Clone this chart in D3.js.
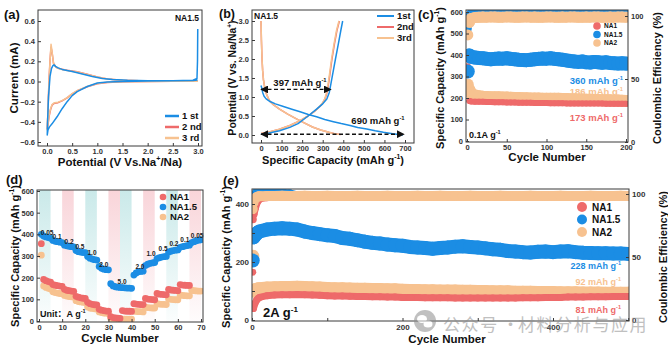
<!DOCTYPE html>
<html>
<head>
<meta charset="utf-8">
<script src="https://cdn.jsdelivr.net/npm/d3@7"></script>
<style>
  body { margin: 0; background: #fff; }
  svg text { font-family: "Liberation Sans", Arial, "Noto Sans CJK SC", sans-serif; font-weight: bold; }
</style>
</head>
<body>
<svg id="fig" width="668" height="349"></svg>
<script>
// ---------- (a) CV curves ----------
const cvV1 = [2.995, 2.99, 2.98, 2.9, 2.5, 2.0, 1.5, 1.2, 1.0, 0.8, 0.6, 0.5, 0.4, 0.3, 0.2, 0.1, 0.05, 0.02, 0.005, 0.01, 0.03, 0.06, 0.09, 0.12, 0.14, 0.17, 0.22, 0.3, 0.5, 0.7, 0.9, 1.1, 1.3, 1.6, 2.0, 2.5, 2.9, 2.99];
const cvI1 = [0.52, 0.2, 0.03, 0.012, 0.008, 0.004, 0.0, -0.005, -0.015, -0.05, -0.1, -0.14, -0.2, -0.27, -0.35, -0.42, -0.45, -0.48, -0.53, -0.42, -0.15, 0.05, 0.13, 0.16, 0.165, 0.15, 0.135, 0.12, 0.10, 0.075, 0.05, 0.03, 0.02, 0.012, 0.008, 0.008, 0.01, 0.015];
const cvV23 = [3.0, 2.5, 2.0, 1.5, 1.2, 1.0, 0.8, 0.6, 0.5, 0.4, 0.3, 0.22, 0.15, 0.1, 0.07, 0.04, 0.02, 0.005, 0.02, 0.04, 0.06, 0.08, 0.1, 0.13, 0.18, 0.25, 0.4, 0.6, 0.8, 1.0, 1.2, 1.5, 2.0, 2.5, 3.0];
const cvI2 = [0.003, 0.002, 0.0, -0.003, -0.009, -0.022, -0.052, -0.092, -0.122, -0.162, -0.192, -0.21, -0.215, -0.235, -0.28, -0.35, -0.43, -0.47, -0.28, 0.02, 0.21, 0.34, 0.29, 0.18, 0.14, 0.126, 0.112, 0.096, 0.071, 0.046, 0.026, 0.013, 0.006, 0.004, 0.003];
const cvI3 = [0.003, 0.002, 0.0, -0.003, -0.008, -0.02, -0.05, -0.09, -0.12, -0.16, -0.19, -0.205, -0.21, -0.23, -0.27, -0.34, -0.42, -0.48, -0.3, 0.0, 0.2, 0.37, 0.3, 0.18, 0.14, 0.125, 0.11, 0.095, 0.07, 0.045, 0.025, 0.012, 0.006, 0.004, 0.003];
const cvNames = ['1 st', '2 nd', '3 rd'];

// ---------- (b) charge / discharge profiles ----------
const gcdDisCap1 = [0, 3, 8, 15, 25, 44, 70, 109, 150, 190, 230, 270, 310, 352, 390, 433, 470, 514, 555, 595, 640, 670, 690];
const gcdDisV1   = [1.3, 1.25, 1.12, 1.02, 0.95, 0.88, 0.82, 0.75, 0.68, 0.61, 0.54, 0.48, 0.41, 0.35, 0.30, 0.25, 0.2, 0.16, 0.11, 0.07, 0.035, 0.015, 0.0];
const gcdChgCap1 = [0, 40, 90, 140, 180, 229, 270, 300, 320, 332, 340, 350, 362, 376, 388, 397];
const gcdChgV1   = [0.02, 0.05, 0.11, 0.2, 0.3, 0.5, 0.68, 0.82, 0.95, 1.12, 1.35, 1.65, 2.0, 2.4, 2.75, 3.0];
const gcdDisCap3 = [0, 2, 5, 8, 12, 18, 25, 35, 44, 60, 90, 130, 170, 210, 250, 290, 330, 360, 385];
const gcdDisV3   = [3.0, 2.5, 2.0, 1.7, 1.45, 1.25, 1.1, 0.97, 0.88, 0.8, 0.68, 0.55, 0.43, 0.32, 0.21, 0.13, 0.07, 0.03, 0.01];
const gcdChgCap3 = [0, 40, 90, 140, 190, 229, 260, 285, 300, 310, 318, 325, 333, 343, 355, 367, 379];
const gcdChgV3   = [0.04, 0.08, 0.15, 0.25, 0.38, 0.5, 0.62, 0.75, 0.85, 0.95, 1.1, 1.3, 1.6, 2.0, 2.4, 2.75, 3.0];
const gcdDisCap2 = [0, 2, 5, 8, 12, 18, 25, 35, 44, 60, 90, 130, 170, 210, 250, 290, 330, 362, 388];
const gcdChgCap2 = [0, 40, 90, 140, 190, 229, 260, 286, 301, 311, 320, 327, 335, 345, 357, 369, 381];
const gcdNames = ['1st', '2nd', '3rd'];

// ---------- (c) cycling at 0.1 A/g ----------
const cycC = [1, 3, 5, 10, 15, 20, 25, 30, 35, 40, 45, 50, 55, 60, 65, 70, 75, 80, 85, 90, 95, 100, 105, 110, 115, 120, 125, 130, 135, 140, 145, 150, 155, 160, 165, 170, 175, 180, 185, 190, 195, 200];
const capC_NA15 = [323, 398, 392, 388, 386, 385, 382, 380, 382, 384, 383, 385, 382, 380, 378, 377, 376, 378, 380, 382, 384, 383, 385, 382, 380, 378, 375, 372, 370, 368, 370, 366, 365, 368, 366, 364, 366, 363, 362, 360, 362, 360];
const capC_NA2  = [263, 238, 222, 212, 208, 206, 205, 204, 203, 203, 202, 202, 201, 200, 200, 199, 199, 198, 198, 198, 197, 197, 197, 196, 196, 195, 195, 194, 194, 193, 193, 192, 192, 191, 191, 190, 190, 189, 188, 188, 187, 186];
const capC_NA1  = [348, 186, 184, 183, 182, 182, 181, 181, 180, 180, 180, 179, 179, 179, 178, 178, 178, 178, 177, 177, 177, 177, 176, 176, 176, 176, 175, 175, 175, 175, 175, 174, 174, 174, 174, 174, 173, 173, 173, 173, 173, 173];
const ceC_NA2  = [85, 95, 98, 98.8, 99.0, 99.2, 99.1, 99.3, 99.2, 99.0, 99.1, 99.3, 99.2, 99.1, 99.0, 99.2, 99.3, 99.1, 99.2, 99.0, 99.1, 99.2, 99.3, 99.1, 99.0, 99.2, 99.1, 99.3, 99.2, 99.0, 99.1, 99.2, 99.1, 99.3, 99.2, 99.0, 99.1, 99.2, 99.1, 99.3, 99.2, 99.1];
const ceC_NA15 = [90, 100.5, 102.5, 103.0, 103.2, 103.1, 103.3, 103.2, 103.0, 103.1, 103.2, 103.1, 103.3, 103.2, 103.1, 103.0, 103.2, 103.1, 103.3, 103.2, 103.1, 103.2, 103.0, 103.1, 103.2, 103.3, 103.1, 103.2, 103.0, 103.1, 103.2, 103.1, 103.3, 103.2, 103.1, 103.0, 103.2, 103.1, 103.2, 103.1, 103.2, 103.1];

// ---------- (d) rate capability ----------
const rateNA15 = [400, 392, 388, 385, 382, 372, 368, 366, 364, 362, 350, 347, 345, 343, 342, 325, 320, 318, 316, 315,
                  298, 290, 286, 283, 281, 252, 243, 239, 237, 236, 172, 162, 158, 156, 155, 154, 153, 152, 152, 151,
                  212, 222, 227, 229, 230, 256, 262, 266, 268, 270, 288, 292, 295, 297, 298, 318, 322, 325, 327, 328,
                  340, 343, 346, 348, 350, 362, 366, 370, 373, 375];
const rateNA1  = [357, 192, 186, 182, 179, 168, 165, 163, 161, 160, 146, 142, 140, 138, 137, 114, 110, 107, 105, 104,
                  86, 80, 77, 75, 74, 54, 50, 48, 46, 45, 20, 16, 14, 13, 12, 48, 46, 45, 45, 44,
                  80, 78, 77, 76, 76, 104, 101, 100, 99, 98, 127, 124, 123, 122, 121, 146, 143, 142, 141, 140,
                  168, 166, 165, 164, 164];
const rateNA2  = [304, 162, 155, 151, 148, 135, 131, 129, 127, 126, 118, 115, 113, 112, 111, 94, 90, 88, 86, 85,
                  65, 60, 58, 56, 55, 42, 39, 37, 36, 35, 12, 10, 9, 9, 8, 9, 8, 8, 8, 8,
                  46, 44, 43, 43, 42, 64, 62, 61, 60, 60, 80, 78, 77, 77, 76, 102, 100, 99, 98, 98,
                  120, 118, 117, 116, 116, 142, 140, 139, 138, 138];
const rateBandStart = [0, 10, 20, 30, 35, 45, 55, 65];
const rateBandEnd   = [5, 15, 25, 35, 40, 50, 60, 70];
const rateBandKind  = ['t', 'p', 't', 'p', 't', 'p', 't', 'p'];
const rateLabels     = ['0.05', '0.1', '0.2', '0.5', '1.0', '2.0', '5.0', '2.0', '1.0', '0.5', '0.2', '0.1', '0.05'];
const rateLabelCycle = [3.5, 7.8, 13, 17.7, 22.9, 28, 35.9, 43.6, 48.4, 53.6, 58.3, 63, 68.3];
const rateLabelValue = [408, 390, 366, 344, 316, 261, 183, 252, 311, 334, 357, 375, 394];

// ---------- (e) long cycling at 2 A/g ----------
const cycE = [1, 2, 4, 6, 8, 10, 20, 30, 40, 50, 60, 70, 80, 90, 100, 110, 120, 130, 140, 150, 160, 170, 180, 190, 200,
              210, 220, 230, 240, 250, 260, 270, 280, 290, 300, 310, 320, 330, 340, 350, 360, 370, 380, 390, 400,
              410, 420, 430, 440, 450, 460, 470, 480, 490, 500];
const capE_NA15 = [205, 285, 292, 298, 302, 305, 312, 315, 316, 315, 312, 305, 300, 296, 292, 290, 283, 280, 275, 270, 266, 264, 260, 258, 256,
                   252, 250, 248, 246, 248, 250, 253, 254, 252, 250, 247, 244, 242, 238, 236, 234, 233, 235, 236, 234,
                   236, 237, 234, 232, 231, 230, 230, 229, 229, 228];
const capE_NA2  = [220, 100, 104, 106, 107, 108, 110, 111, 112, 112, 113, 112, 111, 110, 109, 108, 108, 107, 106, 106, 105, 105, 104, 104, 103,
                   102, 102, 101, 101, 100, 100, 100, 99, 99, 98, 98, 97, 97, 97, 96, 96, 96, 95, 95, 95,
                   94, 94, 94, 93, 93, 93, 92, 92, 92, 92];
const capE_NA1  = [165, 40, 58, 68, 74, 78, 84, 86, 87, 87, 88, 87, 86, 85, 84, 83, 83, 82, 81, 81, 80, 80, 79, 79, 78,
                   78, 78, 77, 77, 77, 77, 76, 76, 76, 76, 76, 76, 76, 76, 76, 77, 77, 77, 78, 78,
                   78, 79, 79, 79, 80, 80, 80, 81, 81, 81];
const ceE_NA2  = [88, 93, 96, 97.5, 98, 98.3, 98.4, 98.5, 98.6, 98.4, 98.5, 98.6, 98.5, 98.4, 98.6, 98.5, 98.4, 98.5, 98.6, 98.5, 98.4, 98.5, 98.6, 98.5, 98.4,
                  98.5, 98.6, 98.4, 98.5, 98.6, 98.5, 98.4, 98.5, 98.6, 98.5, 98.4, 98.5, 98.6, 98.5, 98.4, 98.5, 98.6, 98.5, 98.4, 98.5,
                  98.6, 98.5, 98.4, 98.5, 98.6, 98.5, 98.4, 98.5, 98.6, 98.5];
const ceE_NA1  = [80, 84, 89, 93, 95, 96.5, 97.5, 98.2, 98.2, 98.2, 98.2, 98.2, 98.2, 98.2, 98.2, 98.2, 98.2, 98.2, 98.2, 98.2, 98.2, 98.2, 98.2, 98.2, 98.2,
                  98.2, 98.2, 98.2, 98.2, 98.2, 98.2, 98.2, 98.2, 98.2, 98.2, 98.2, 98.2, 98.2, 98.2, 98.2, 98.2, 98.2, 98.2, 98.2, 98.2,
                  98.2, 98.2, 98.2, 98.2, 98.2, 98.2, 98.2, 98.2, 98.2, 98.2];
const ceE_NA15 = [92, 97, 100, 101.5, 102, 102, 102, 101.5, 101, 100.5, 99, 99, 99, 99, 99, 99, 99, 99, 99, 99, 99, 99, 99, 99, 99,
                  99, 99, 99, 99, 99, 99, 99, 99, 99, 99, 99, 99, 99, 99, 99, 99, 99, 99, 99, 99,
                  99, 99, 99, 99, 99, 99, 99, 99, 99, 99];

const sampleNames = ['NA1', 'NA1.5', 'NA2'];

// ---------- drawing ----------
const BLUE = '#1b8de4', RED = '#ee6a6a', TAN = '#f7c290', INK = '#111', AX = '#3a3a3a';
const svg = d3.select('#fig');
const defs = svg.append('defs');

// text with optional superscript parts: strings or {sup: '...'}
function rich(g, x, y, parts, size, opts = {}) {
  const t = g.append('text').attr('x', x).attr('y', y).attr('font-size', size)
    .attr('fill', opts.fill || INK).attr('text-anchor', opts.anchor || 'start');
  if (opts.rotate) t.attr('transform', `rotate(${opts.rotate},${x},${y})`);
  let shift = 0;
  parts.forEach(p => {
    const sup = typeof p !== 'string';
    const s = t.append('tspan').text(sup ? p.sup : p);
    const target = sup ? -size * 0.42 : 0;
    if (target !== shift) { s.attr('dy', target - shift); shift = target; }
    if (sup) s.attr('font-size', size * 0.62);
  });
  return t;
}

function clipFor(id, b) {
  defs.append('clipPath').attr('id', id).append('rect')
    .attr('x', b.x0).attr('y', b.y0).attr('width', b.x1 - b.x0).attr('height', b.y1 - b.y0);
  return svg.append('g').attr('clip-path', `url(#${id})`);
}

function frame(b) {
  svg.append('rect').attr('x', b.x0).attr('y', b.y0).attr('width', b.x1 - b.x0).attr('height', b.y1 - b.y0)
    .attr('fill', 'none').attr('stroke', AX).attr('stroke-width', 1);
}

function styleAxis(g, fs) {
  g.select('.domain').remove();
  g.selectAll('line').attr('stroke', AX);
  g.selectAll('text').attr('font-size', fs).attr('fill', '#333')
    .style('font-family', '"Liberation Sans", Arial, sans-serif').style('font-weight', 'bold');
}

function axes(b, x, xt, xf, y, yt, yf, fs = 7.5) {
  const gx = svg.append('g').attr('transform', `translate(0,${b.y1})`)
    .call(d3.axisBottom(x).tickValues(xt).tickFormat(xf).tickSize(-3).tickPadding(3));
  styleAxis(gx, fs);
  const gy = svg.append('g').attr('transform', `translate(${b.x0},0)`)
    .call(d3.axisLeft(y).tickValues(yt).tickFormat(yf).tickSize(-3).tickPadding(3));
  styleAxis(gy, fs);
}

function rightAxis(b, y, yt, fs = 7.5) {
  const g = svg.append('g').attr('transform', `translate(${b.x1},0)`)
    .call(d3.axisRight(y).tickValues(yt).tickFormat(d3.format('d')).tickSize(-3).tickPadding(3));
  styleAxis(g, fs);
}

function curve(g, xs, ys, x, y, color, w = 1.5) {
  g.append('path').datum(xs.map((v, i) => [x(v), y(ys[i])]))
    .attr('d', d3.line()).attr('fill', 'none').attr('stroke', color)
    .attr('stroke-width', w).attr('stroke-linejoin', 'round');
}

// overlapping scatter markers along a series, joined so the band has no gaps
function band(g, xs, ys, x, y, color, r, from = 1) {
  const pts = xs.map((v, i) => [x(v), y(ys[i])]);
  g.append('path').datum(pts.slice(from)).attr('d', d3.line()).attr('fill', 'none')
    .attr('stroke', color).attr('stroke-width', 2 * r).attr('stroke-linejoin', 'round').attr('stroke-linecap', 'round');
  g.selectAll(null).data(pts).join('circle')
    .attr('cx', d => d[0]).attr('cy', d => d[1]).attr('r', r).attr('fill', color);
}

const capTitle = ['Specific Capacity (mAh g', {sup: '-1'}, ')'];

// ===== (a) =====
const A = {x0: 38, x1: 202, y0: 10, y1: 146};
const xa = d3.scaleLinear().domain([0, 3]).range([47, 198]);
const ya = d3.scaleLinear().domain([-0.6, 0.6]).range([142, 21]);
const ga = clipFor('clipA', A);
curve(ga, cvV23, cvI2, xa, ya, RED);
curve(ga, cvV23, cvI3, xa, ya, TAN);
curve(ga, cvV1, cvI1, xa, ya, BLUE);
frame(A);
axes(A, xa, d3.range(0, 3.01, 0.5), d3.format('.1f'), ya, [-0.6, -0.4, -0.2, 0, 0.2, 0.4, 0.6], d3.format('.1f'));
[BLUE, RED, TAN].forEach((c, i) => {
  svg.append('line').attr('x1', 165).attr('x2', 179).attr('y1', 116 + i * 11).attr('y2', 116 + i * 11)
    .attr('stroke', c).attr('stroke-width', 2.5);
  svg.append('text').attr('x', 182).attr('y', 116 + i * 11).attr('dy', '0.35em').attr('font-size', 9.5)
    .attr('fill', INK).text(cvNames[i]);
});
svg.append('text').attr('x', 199).attr('y', 21).attr('text-anchor', 'end').attr('font-size', 8.5).attr('fill', INK).text('NA1.5');
svg.append('text').attr('x', 4).attr('y', 19).attr('font-size', 13).attr('fill', INK).text('(a)');
rich(svg, 18, 78, ['Current (mA)'], 11.5, {anchor: 'middle', rotate: -90});
rich(svg, 120, 166, ['Potential (V Vs.Na', {sup: '+'}, '/Na)'], 11.5, {anchor: 'middle'});

// ===== (b) =====
const B = {x0: 252, x1: 414, y0: 10, y1: 143};
const xb = d3.scaleLinear().domain([0, 700]).range([261, 405]);
const yb = d3.scaleLinear().domain([0, 3]).range([135, 21]);
const gb = clipFor('clipB', B);
curve(gb, gcdDisCap2, gcdDisV3, xb, yb, RED);
curve(gb, gcdChgCap2, gcdChgV3, xb, yb, RED);
curve(gb, gcdDisCap3, gcdDisV3, xb, yb, TAN);
curve(gb, gcdChgCap3, gcdChgV3, xb, yb, TAN);
curve(gb, gcdDisCap1, gcdDisV1, xb, yb, BLUE);
curve(gb, gcdChgCap1, gcdChgV1, xb, yb, BLUE);
frame(B);
axes(B, xb, d3.range(0, 701, 100), d3.format('d'), yb, d3.range(0, 3.01, 0.5), d3.format('.1f'));
defs.append('marker').attr('id', 'arr').attr('viewBox', '0 0 10 10').attr('refX', 9).attr('refY', 5)
  .attr('markerWidth', 6).attr('markerHeight', 6).attr('orient', 'auto-start-reverse')
  .append('path').attr('d', 'M0,0L10,5L0,10z').attr('fill', INK);
function dashArrow(c0, c1, v) {
  svg.append('line').attr('x1', xb(c0)).attr('x2', xb(c1)).attr('y1', yb(v)).attr('y2', yb(v))
    .attr('stroke', INK).attr('stroke-width', 1.3).attr('stroke-dasharray', '4,2.5')
    .attr('marker-start', 'url(#arr)').attr('marker-end', 'url(#arr)');
}
dashArrow(0, 340, 1.2);
dashArrow(0, 695, 0.02);
rich(svg, 300, 86, ['397 mAh g', {sup: '-1'}], 9.5, {anchor: 'middle'});
rich(svg, 378, 124, ['690 mAh g', {sup: '-1'}], 9.5, {anchor: 'middle'});
[BLUE, RED, TAN].forEach((c, i) => {
  svg.append('line').attr('x1', 377).attr('x2', 394).attr('y1', 16 + i * 11).attr('y2', 16 + i * 11)
    .attr('stroke', c).attr('stroke-width', 2);
  svg.append('text').attr('x', 397).attr('y', 16 + i * 11).attr('dy', '0.35em').attr('font-size', 9.5)
    .attr('fill', INK).text(gcdNames[i]);
});
svg.append('text').attr('x', 254).attr('y', 19).attr('font-size', 8.5).attr('fill', INK).text('NA1.5');
svg.append('text').attr('x', 219).attr('y', 18).attr('font-size', 12.5).attr('fill', INK).text('(b)');
rich(svg, 236, 78, ['Potential (V vs. Na/Na', {sup: '+'}, ')'], 10.5, {anchor: 'middle', rotate: -90});
rich(svg, 333, 164, capTitle, 11, {anchor: 'middle'});

// ===== (c) =====
const Cb = {x0: 466, x1: 628, y0: 10, y1: 142};
const xc = d3.scaleLinear().domain([0, 200]).range([467, 626]);
const yc = d3.scaleLinear().domain([0, 600]).range([141, 12]);
const yc2 = d3.scaleLinear().domain([0, 100]).range([142, 16]);
const gc = clipFor('clipC', Cb);
band(gc, cycC, ceC_NA15, xc, yc2, BLUE, 4);
band(gc, cycC, ceC_NA2, xc, yc2, TAN, 5.5);
band(gc, cycC, capC_NA2, xc, yc, TAN, 6);
band(gc, cycC, capC_NA1, xc, yc, RED, 3);
band(gc, cycC, capC_NA15, xc, yc, BLUE, 7);
frame(Cb);
axes(Cb, xc, [0, 50, 100, 150, 200], d3.format('d'), yc, d3.range(0, 601, 100), d3.format('d'));
rightAxis(Cb, yc2, [0, 50, 100]);
[RED, BLUE, TAN].forEach((c, i) => {
  svg.append('circle').attr('cx', 597).attr('cy', 26 + i * 8.5).attr('r', 3.8).attr('fill', c);
  svg.append('text').attr('x', 604).attr('y', 26 + i * 8.5).attr('dy', '0.35em').attr('font-size', 6.5)
    .attr('fill', INK).text(sampleNames[i]);
});
rich(svg, 623, 84, ['360 mAh g', {sup: '-1'}], 9.5, {anchor: 'end', fill: BLUE});
rich(svg, 623, 95, ['186 mAh g', {sup: '-1'}], 9.5, {anchor: 'end', fill: TAN});
rich(svg, 623, 121, ['173 mAh g', {sup: '-1'}], 9.5, {anchor: 'end', fill: RED});
rich(svg, 469, 138, ['0.1A g', {sup: '-1'}], 9, {});
svg.append('text').attr('x', 418).attr('y', 19).attr('font-size', 13).attr('fill', INK).text('(c)');
rich(svg, 444, 78, capTitle, 11, {anchor: 'middle', rotate: -90});
rich(svg, 661, 78, ['Coulombic Efficiency (%)'], 11, {anchor: 'middle', rotate: -90});
rich(svg, 547, 161, ['Cycle Number'], 11.5, {anchor: 'middle'});

// ===== (d) =====
const D = {x0: 37, x1: 203, y0: 190, y1: 322};
const xd = d3.scaleLinear().domain([0, 70]).range([39, 201]);
const yd = d3.scaleLinear().domain([0, 600]).range([321, 191]);
[['gradT', '#b3e0e0'], ['gradP', '#f6c2c9']].forEach(([id, col]) => {
  const lg = defs.append('linearGradient').attr('id', id).attr('x1', 0).attr('y1', 0).attr('x2', 0).attr('y2', 1);
  lg.append('stop').attr('offset', '0%').attr('stop-color', col).attr('stop-opacity', 0.7);
  lg.append('stop').attr('offset', '100%').attr('stop-color', col).attr('stop-opacity', 0.05);
});
const gd = clipFor('clipD', D);
gd.selectAll(null).data(rateBandStart).join('rect')
  .attr('x', (d, i) => xd(d)).attr('width', (d, i) => xd(rateBandEnd[i]) - xd(d))
  .attr('y', D.y0).attr('height', D.y1 - D.y0)
  .attr('fill', (d, i) => rateBandKind[i] === 't' ? 'url(#gradT)' : 'url(#gradP)');
[[rateNA2, TAN], [rateNA1, RED], [rateNA15, BLUE]].forEach(([vals, col]) => {
  gd.selectAll(null).data(vals).join('circle')
    .attr('cx', (d, i) => xd(i + 1)).attr('cy', d => yd(d)).attr('r', 3.4).attr('fill', col);
});
svg.selectAll(null).data(rateLabels).join('text')
  .attr('x', (d, i) => xd(rateLabelCycle[i])).attr('y', (d, i) => yd(rateLabelValue[i]))
  .attr('dy', '0.35em').attr('text-anchor', 'middle').attr('font-size', 6.5).attr('fill', '#222').text(d => d);
frame(D);
axes(D, xd, d3.range(0, 71, 10), d3.format('d'), yd, d3.range(0, 601, 100), d3.format('d'));
[RED, BLUE, TAN].forEach((c, i) => {
  svg.append('circle').attr('cx', 163).attr('cy', 197 + i * 10).attr('r', 3.3).attr('fill', c);
  svg.append('text').attr('x', 170).attr('y', 197 + i * 10).attr('dy', '0.35em').attr('font-size', 9.5)
    .attr('fill', INK).text(sampleNames[i]);
});
rich(svg, 40, 317, ['Unit\uFF1AA g', {sup: '-1'}], 9, {});
svg.append('text').attr('x', 6).attr('y', 184).attr('font-size', 13).attr('fill', INK).text('(d)');
rich(svg, 19, 256, capTitle, 11, {anchor: 'middle', rotate: -90});
rich(svg, 120, 342, ['Cycle Number'], 11.5, {anchor: 'middle'});

// ===== (e) =====
const E = {x0: 252, x1: 629, y0: 189, y1: 321};
const xe = d3.scaleLinear().domain([0, 400]).range([252, 553]);
const ye = d3.scaleLinear().domain([0, 400]).range([320, 204]);
const ye2 = d3.scaleLinear().domain([0, 100]).range([320, 194]);
const ge = clipFor('clipE', E);
band(ge, cycE, ceE_NA15, xe, ye2, BLUE, 4);
band(ge, cycE, ceE_NA1, xe, ye2, RED, 4);
band(ge, cycE, ceE_NA2, xe, ye2, TAN, 5, 3);
band(ge, cycE, capE_NA2, xe, ye, TAN, 6.5);
band(ge, cycE, capE_NA1, xe, ye, RED, 3.5);
band(ge, cycE, capE_NA15, xe, ye, BLUE, 7);
frame(E);
axes(E, xe, [0, 100, 200, 300, 400, 500], d => d % 200 === 0 ? d : '', ye, [0, 100, 200, 300, 400], d => d % 200 === 0 ? d : '', 8);
rightAxis(E, ye2, [0, 50, 100], 8);
[RED, BLUE, TAN].forEach((c, i) => {
  svg.append('circle').attr('cx', 582).attr('cy', 207 + i * 12.5).attr('r', 5).attr('fill', c);
  svg.append('text').attr('x', 592).attr('y', 207 + i * 12.5).attr('dy', '0.35em').attr('font-size', 10)
    .attr('fill', INK).text(sampleNames[i]);
});
rich(svg, 621, 269, ['228 mAh g', {sup: '-1'}], 9, {anchor: 'end', fill: BLUE});
rich(svg, 621, 285, ['92 mAh g', {sup: '-1'}], 9, {anchor: 'end', fill: TAN});
rich(svg, 621, 313, ['81 mAh g', {sup: '-1'}], 9, {anchor: 'end', fill: RED});
rich(svg, 263, 317, ['2A g', {sup: '-1'}], 13, {});
svg.append('text').attr('x', 223).attr('y', 185).attr('font-size', 13).attr('fill', INK).text('(e)');
rich(svg, 230, 257, capTitle, 11, {anchor: 'middle', rotate: -90});
rich(svg, 667, 257, ['Coulombic Efficiency (%)'], 11, {anchor: 'middle', rotate: -90});
rich(svg, 447, 343, ['Cycle Number'], 11.5, {anchor: 'middle'});

// ===== watermark =====
const wm = svg.append('g').attr('opacity', 0.55);
wm.append('circle').attr('cx', 425).attr('cy', 321).attr('r', 11).attr('fill', '#8d8d8d');
wm.append('ellipse').attr('cx', 422).attr('cy', 319).attr('rx', 5).attr('ry', 4).attr('fill', '#fff');
wm.append('ellipse').attr('cx', 428).attr('cy', 324).attr('rx', 4.5).attr('ry', 3.5).attr('fill', '#fff');
wm.selectAll(null).data([['公众号', 443], ['·', 502], ['材料分析与应用', 518]]).join('text')
  .attr('x', d => d[1]).attr('y', 331).attr('font-size', 17).attr('fill', '#8d8d8d')
  .style('font-family', '"Noto Sans CJK SC", sans-serif').style('font-weight', 'normal')
  .style('letter-spacing', '1.6px').text(d => d[0]);
</script>
</body>
</html>
